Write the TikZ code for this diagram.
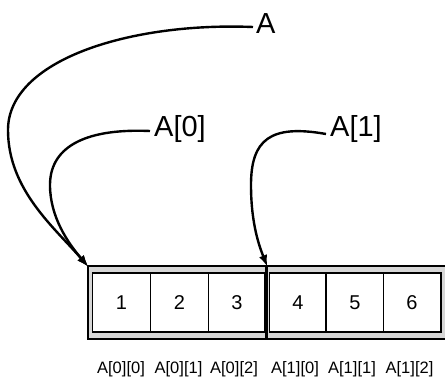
\documentclass[tikz,border=0pt]{standalone}
\usepackage{fontspec}
\setmainfont{Liberation Sans}
\usetikzlibrary{arrows.meta}
\definecolor{bandgray}{HTML}{D6D6D6}
\tikzset{
  ptr/.style={line width=2.4pt,-{Latex[length=12pt,width=8.5pt]}},
  outerbox/.style={draw=black,line width=1.4pt,fill=bandgray},
  innerbox/.style={draw=black,line width=1.4pt,fill=white},
  celldiv/.style={draw=black,line width=1.4pt},
  digit/.style={font=\fontsize{20}{22}\selectfont,inner sep=0pt},
  bigname/.style={font=\fontsize{29}{32}\selectfont,inner sep=0pt,anchor=west},
  idx/.style={font=\fontsize{16.5}{18}\selectfont,inner sep=0pt}
}
\begin{document}
\begin{tikzpicture}[x=1pt,y=-1pt]
\useasboundingbox (0,0) rectangle (445,381);
% boxes
\draw[outerbox] (88,266) rectangle (266,339);
\draw[innerbox] (92.5,273) rectangle (265,332);
\draw[outerbox] (267.5,266) rectangle (448,339);
\draw[innerbox] (269.5,273) rectangle (441,332);
\draw[celldiv] (150.5,273) -- (150.5,332);
\draw[celldiv] (208.5,273) -- (208.5,332);
\draw[celldiv] (326,273) -- (326,332);
\draw[celldiv] (383.5,273) -- (383.5,332);
% corner coordinates
\coordinate (b1) at (88.5,267);
\coordinate (b2) at (267.5,267);
% digits
\node[digit] (c1) at (121.5,302.5) {1};
\node[digit] (c2) at (179.5,302.5) {2};
\node[digit] (c3) at (237,302.5) {3};
\node[digit] (c4) at (298,302.5) {4};
\node[digit] (c5) at (355,302.5) {5};
\node[digit] (c6) at (412,302.5) {6};
% index labels
\node[idx] (l1) at (121,369) {A[0][0]};
\node[idx] (l2) at (178.5,369) {A[0][1]};
\node[idx] (l3) at (234,369) {A[0][2]};
\node[idx] (l4) at (295,369) {A[1][0]};
\node[idx] (l5) at (352,369) {A[1][1]};
\node[idx] (l6) at (409.5,369) {A[1][2]};
% pointer names
\node[bigname] (nA) at (256,24) {A};
\node[bigname] (nA0) at (154,129) {A[0]};
\node[bigname] (nA1) at (330,129) {A[1]};
% pointers
\draw[ptr] ([xshift=-3pt,yshift=-3pt]nA.west) .. controls (130,22) and (8,60) .. (8,130)
  .. controls (8,190) and (55,228) .. (b1);
\draw[ptr] ([xshift=-4pt,yshift=-2pt]nA0.west) .. controls (80,128) and (50,150) .. (50,185)
  .. controls (50,217) and (68,243) .. (b1);
\draw[ptr] ([xshift=-4pt,yshift=-5pt]nA1.west) .. controls (270,124) and (251,140) .. (251,185)
  .. controls (251,225) and (260,248) .. (b2);
\end{tikzpicture}
\end{document}
